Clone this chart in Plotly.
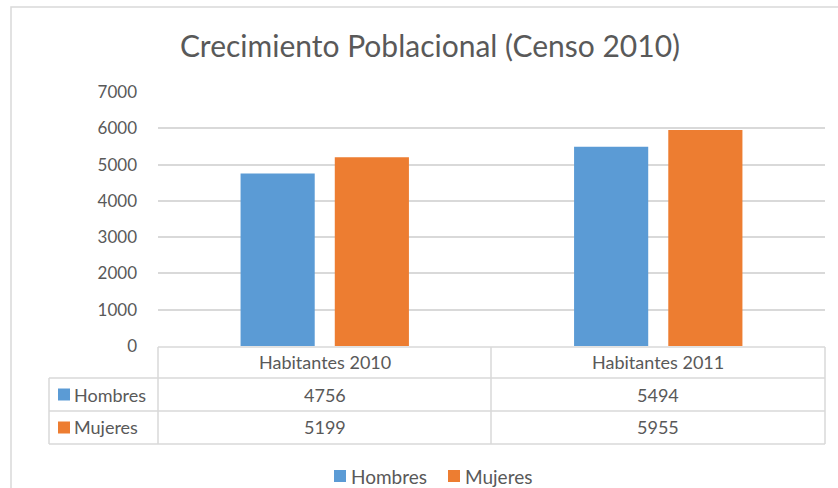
import plotly.graph_objects as go

categories = ["Habitantes 2010", "Habitantes 2011"]
hombres = [4756, 5494]
mujeres = [5199, 5955]
series_names = ["Hombres", "Mujeres"]
colors = ["#5B9BD5", "#ED7D31"]
title = "Crecimiento Poblacional (Censo 2010)"

W, H = 838, 488
L, R, T, B = 158, 13, 92, 142
plot_h = H - T - B
font = "Lato, Carlito, Calibri, sans-serif"
grey = "#595959"
line_c = "#D9D9D9"

def py(p):
    return (H - B - p) / plot_h

def px(p):
    return (p - L) / (W - L - R)

fig = go.Figure()
for name, vals, c in zip(series_names, [hombres, mujeres], colors):
    fig.add_trace(go.Bar(x=categories, y=vals, name=name, showlegend=False,
                         marker=dict(color=c, line=dict(width=0))))

shapes = []
# outer chart border
shapes.append(dict(type="rect", xref="paper", yref="paper", x0=px(11), x1=px(860), y0=py(510), y1=py(7),
                   line=dict(color=line_c, width=1.5), fillcolor="rgba(0,0,0,0)", layer="below"))
# table lines
for yy, x0 in [(347, 158), (378, 49), (411, 49), (444, 49)]:
    shapes.append(dict(type="line", xref="paper", yref="paper", x0=px(x0), x1=px(825), y0=py(yy), y1=py(yy),
                       line=dict(color=line_c, width=1.5)))
for xx, y0 in [(49, 378), (158, 347), (491, 347), (825, 347)]:
    shapes.append(dict(type="line", xref="paper", yref="paper", x0=px(xx), x1=px(xx), y0=py(y0), y1=py(444),
                       line=dict(color=line_c, width=1.5)))

annotations = []
txt_font = dict(family=font, size=18, color=grey)
for cat in categories:
    annotations.append(dict(x=cat, xref="x", y=py(362.5), yref="paper", yanchor="middle", xanchor="center",
                            text=cat, showarrow=False, font=txt_font))
row_y = [394.5, 427.5]
for i, (name, vals) in enumerate(zip(series_names, [hombres, mujeres])):
    yc = row_y[i]
    # legend key in the data table
    shapes.append(dict(type="rect", xref="paper", yref="paper", x0=px(58), x1=px(70), y0=py(yc + 6), y1=py(yc - 6),
                       fillcolor=colors[i], line=dict(width=0)))
    annotations.append(dict(x=px(72), xref="paper", xanchor="left", y=py(yc), yref="paper", yanchor="middle",
                            text=name, showarrow=False, font=txt_font))
    for cat, v in zip(categories, vals):
        annotations.append(dict(x=cat, xref="x", y=py(yc), yref="paper", yanchor="middle", xanchor="center",
                                text=str(v), showarrow=False, font=txt_font))

# bottom legend
leg_x = [334, 448]
for i, name in enumerate(series_names):
    x0 = leg_x[i]
    shapes.append(dict(type="rect", xref="paper", yref="paper", x0=px(x0), x1=px(x0 + 12), y0=py(482), y1=py(470),
                       fillcolor=colors[i], line=dict(width=0)))
    annotations.append(dict(x=px(x0 + 15), xref="paper", xanchor="left", y=py(476), yref="paper", yanchor="middle",
                            text=name, showarrow=False, font=dict(family=font, size=19, color=grey)))

fig.update_layout(
    width=W, height=H,
    margin=dict(l=L, r=R, t=T, b=B),
    paper_bgcolor="white", plot_bgcolor="white",
    title=dict(text=title, x=430 / W, xanchor="center", y=1 - 46 / H, yanchor="middle",
               font=dict(family=font, size=30, color=grey)),
    barmode="group", bargap=0.435, bargroupgap=0.213,
    xaxis=dict(showticklabels=False, showgrid=False, zeroline=False, showline=False, ticks=""),
    yaxis=dict(range=[0, 7000], dtick=1000, showgrid=True, gridcolor=line_c, gridwidth=1.5,
               zeroline=False, showline=False, ticks="", ticklabelstandoff=20,
               tickfont=dict(family=font, size=17, color=grey)),
    showlegend=False,
    shapes=shapes, annotations=annotations,
)

fig.write_html("out.html", config={"displayModeBar": False},
               post_script="document.body.style.margin='0';document.body.style.overflow='hidden';")
